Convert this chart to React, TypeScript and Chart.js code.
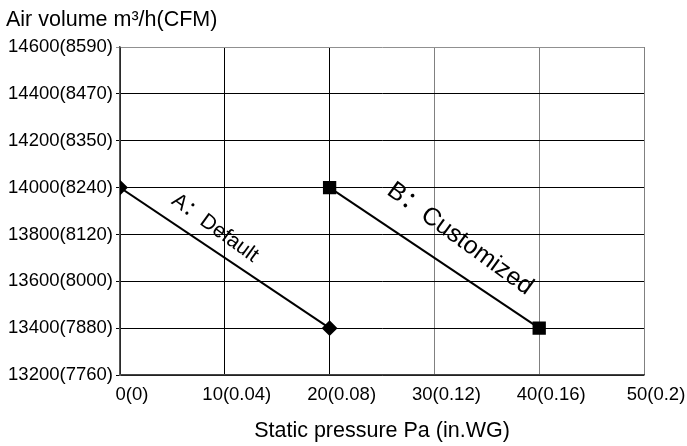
import React, { useEffect, useRef } from "react";
import { Chart, registerables } from "chart.js";

Chart.register(...registerables);

const xTickValues = [0, 10, 20, 30, 40, 50];
const xTickLabels = ["0(0)", "10(0.04)", "20(0.08)", "30(0.12)", "40(0.16)", "50(0.2)"];
const yTickValues = [13200, 13400, 13600, 13800, 14000, 14200, 14400, 14600];
const yTickLabels = ["13200(7760)", "13400(7880)", "13600(8000)", "13800(8120)", "14000(8240)", "14200(8350)", "14400(8470)", "14600(8590)"];

const seriesAX = [0, 20];
const seriesAY = [14000, 13400];
const seriesBX = [20, 40];
const seriesBY = [14000, 13400];

const seriesNames = ["A：Default", "B：Customized"];
const seriesLabelX = [9.06, 32.44];
const seriesLabelY = [13827, 13781];

const yAxisTitle = "Air volume m³/h(CFM)";
const xAxisTitle = "Static pressure Pa (in.WG)";

const FONT = "'Liberation Sans', Arial, 'Noto Sans CJK SC', sans-serif";
const LABEL_FONT_SIZES = [21, 25];
const LABEL_ANGLE_DEG = 36;

const overlayPlugin = {
  id: "overlay",
  afterDatasetsDraw(chart: any) {
    const ctx = chart.ctx;
    const xs = chart.scales.x;
    const ys = chart.scales.y;
    ctx.save();
    ctx.fillStyle = "#000";
    ctx.font = `21.5px ${FONT}`;
    ctx.textAlign = "left";
    ctx.textBaseline = "middle";
    ctx.fillText(yAxisTitle, 6, 20);
    const ang = (LABEL_ANGLE_DEG * Math.PI) / 180;
    ctx.textAlign = "center";
    ctx.textBaseline = "middle";
    for (let i = 0; i < seriesNames.length; i++) {
      const px = xs.getPixelForValue(seriesLabelX[i]);
      const py = ys.getPixelForValue(seriesLabelY[i]);
      ctx.font = `${LABEL_FONT_SIZES[i]}px ${FONT}`;
      ctx.save();
      ctx.translate(px, py);
      ctx.rotate(ang);
      ctx.fillText(seriesNames[i], 0, 0);
      ctx.restore();
    }
    ctx.restore();
  },
};

export default function App() {
  const ref = useRef<HTMLCanvasElement | null>(null);
  useEffect(() => {
    if (!ref.current) return;
    const chart = new Chart(ref.current, {
      type: "scatter",
      data: {
        datasets: [
          {
            label: seriesNames[0],
            data: seriesAX.map((x, i) => ({ x, y: seriesAY[i] })),
            showLine: true,
            borderColor: "#000",
            backgroundColor: "#000",
            borderWidth: 2,
            pointStyle: "rectRot",
            pointRadius: 6.5,
          },
          {
            label: seriesNames[1],
            data: seriesBX.map((x, i) => ({ x, y: seriesBY[i] })),
            showLine: true,
            borderColor: "#000",
            backgroundColor: "#000",
            borderWidth: 2,
            pointStyle: "rect",
            pointRadius: 8,
          },
        ],
      },
      options: {
        animation: false,
        responsive: false,
        maintainAspectRatio: false,
        layout: { padding: { top: 47, right: 43, left: 0, bottom: 0 } },
        plugins: { legend: { display: false }, tooltip: { enabled: false } },
        scales: {
          x: {
            type: "linear",
            min: 0,
            max: 50,
            afterBuildTicks: (s: any) => {
              s.ticks = xTickValues.map((v) => ({ value: v }));
            },
            afterFit: (s: any) => {
              s.height = 71;
            },
            ticks: {
              color: "#000",
              font: { family: FONT, size: 18.5 },
              padding: 9,
              labelOffset: 12,
              maxRotation: 0,
              autoSkip: false,
              callback: (v: any) => {
                const i = xTickValues.indexOf(Number(v));
                return i >= 0 ? xTickLabels[i] : "";
              },
            },
            grid: {
              color: (c: any) => (c.tick && c.tick.value >= 30 ? "#808080" : "#000"),
              lineWidth: 1,
              tickLength: 0,
              drawTicks: false,
            },
            border: { color: "#444", width: 1.5 },
            title: {
              display: true,
              text: xAxisTitle,
              color: "#000",
              font: { family: FONT, size: 21.5 },
              padding: { top: 0, bottom: 2 },
            },
          },
          y: {
            type: "linear",
            min: 13200,
            max: 14600,
            afterBuildTicks: (s: any) => {
              s.ticks = yTickValues.map((v) => ({ value: v }));
            },
            afterFit: (s: any) => {
              s.width = 120;
            },
            ticks: {
              color: "#000",
              font: { family: FONT, size: 18.5 },
              padding: 3,
              autoSkip: false,
              callback: (v: any) => {
                const i = yTickValues.indexOf(Number(v));
                return i >= 0 ? yTickLabels[i] : "";
              },
            },
            grid: {
              color: (c: any) => (c.tick && c.tick.value === 14600 ? "#909090" : "#000"),
              lineWidth: 1,
              tickLength: 4,
            },
            border: { color: "#555", width: 1.5 },
          },
        },
      },
      plugins: [overlayPlugin],
    } as any);
    return () => chart.destroy();
  }, []);
  return (
    <div style={{ position: "fixed", left: 0, top: 0, width: 687, height: 446, background: "#fff" }}>
      <canvas ref={ref} width={687} height={446} style={{ width: 687, height: 446 }} />
    </div>
  );
}
